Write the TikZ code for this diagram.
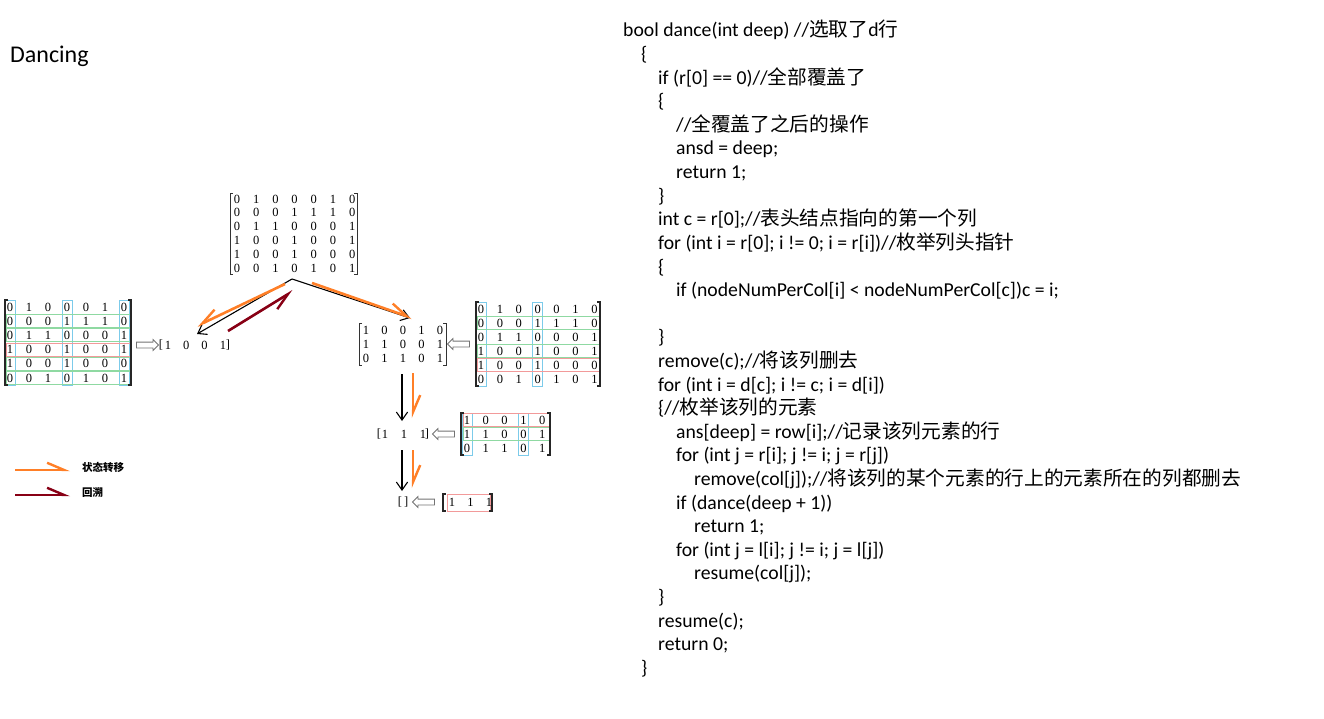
\documentclass[tikz,border=0pt]{standalone}
\usepackage{fontspec}
\setmainfont{Carlito}
\newfontfamily\cjk{Noto Sans CJK SC}
\newfontfamily\mtxfont{Liberation Serif}
\usetikzlibrary{arrows.meta,shapes.arrows}
\definecolor{orng}{HTML}{FF7F27}
\definecolor{dred}{HTML}{880015}
\definecolor{bbox}{HTML}{7CCBEA}
\definecolor{gbox}{HTML}{8FD9A2}
\definecolor{rbox}{HTML}{F29A9A}
\begin{document}
\begin{tikzpicture}[x=1pt,y=-1pt,
  num/.style={font=\mtxfont\fontsize{12.5}{12.5}\selectfont, inner sep=0pt, anchor=center},
  brk/.style={line width=0.9pt, black!80},
  brkthick/.style={line width=1.8pt, black!85},
  codeline/.style={anchor=base west, inner sep=0pt, font=\fontsize{19.7}{19.7}\selectfont},
  bluebox/.style={draw=bbox, line width=0.9pt},
  greenbox/.style={draw=gbox, line width=0.9pt},
  redbox/.style={draw=rbox, line width=0.9pt},
  hollowR/.style={single arrow, draw=black!55, fill=white, minimum height=22pt, inner sep=2.5pt, single arrow head extend=2.5pt, line width=0.8pt},
  hollowL/.style={hollowR, shape border rotate=180},
  blk/.style={draw=black, line width=1.1pt, -{Straight Barb[length=8pt, angle'=70]}},
  barbA/.style={-{Straight Barb[left, length=17pt, angle'=46, line width=2.4pt]}},
  barbB/.style={-{Straight Barb[right, length=17pt, angle'=46, line width=2.4pt]}},
  orUp/.style={draw=orng, line width=2.6pt, barbA},
  orDn/.style={draw=orng, line width=2.6pt, barbB},
  drDn/.style={draw=dred, line width=2.6pt, barbB},
  drUp/.style={draw=dred, line width=2.6pt, barbA},
  legtext/.style={anchor=west, inner sep=0pt, font=\cjk\bfseries\fontsize{10.5}{10.5}\selectfont}
]
\path[use as bounding box] (0,0) rectangle (1324,719);

\node[anchor=base west, inner sep=0pt, font=\fontsize{24}{24}\selectfont] (title) at (10,63) {Dancing};

% ---------- top matrix M0
\draw[brk] (233,193) -- (230,193) -- (230,274) -- (233,274);
\draw[brk] (354,193) -- (357,193) -- (357,274) -- (354,274);
\foreach \row [count=\i] in {{0,1,0,0,0,1,0},{0,0,0,1,1,1,0},{0,1,1,0,0,0,1},{1,0,0,1,0,0,1},{1,0,0,1,0,0,0},{0,0,1,0,1,0,1}}
  \foreach \v [count=\j] in \row
    \node[num] (ma-\i-\j) at ({237+(\j-1)*19.2},{199+(\i-1)*13.8}) {\v};

% ---------- left matrix M1 with boxes
\foreach \c in {1,4,7}
  \draw[bluebox] ({10+(\c-1)*19-5},300) rectangle ({10+(\c-1)*19+5},385);
\foreach \r in {2,3,5,6}
  \draw[greenbox] (6,{307+(\r-1)*14.2-6.5}) rectangle (130,{307+(\r-1)*14.2+6.5});
\draw[redbox] (6,{307+3*14.2-6.5}) rectangle (130,{307+3*14.2+6.5});
\draw[brkthick] (8,300) -- (5,300) -- (5,385) -- (8,385);
\draw[brkthick] (128,300) -- (131,300) -- (131,385) -- (128,385);
\foreach \row [count=\i] in {{0,1,0,0,0,1,0},{0,0,0,1,1,1,0},{0,1,1,0,0,0,1},{1,0,0,1,0,0,1},{1,0,0,1,0,0,0},{0,0,1,0,1,0,1}}
  \foreach \v [count=\j] in \row
    \node[num] (mb-\i-\j) at ({10+(\j-1)*19},{307+(\i-1)*14.2}) {\v};

\node[hollowR] (h1) at (146,345) {};
\node[num] (v1l) at (161,345) {[};
\foreach \v [count=\j] in {1,0,0,1}
  \node[num] (v1-\j) at ({168+(\j-1)*18.3},345) {\v};
\node[num] (v1r) at (228,345) {]};

% ---------- middle matrix M2
\draw[brk] (362,323) -- (359,323) -- (359,365) -- (362,365);
\draw[brk] (443,323) -- (446,323) -- (446,365) -- (443,365);
\foreach \row [count=\i] in {{1,0,0,1,0},{1,1,0,0,1},{0,1,1,0,1}}
  \foreach \v [count=\j] in \row
    \node[num] (mc-\i-\j) at ({366+(\j-1)*18.5},{330+(\i-1)*14}) {\v};

\node[hollowL] (h2) at (460,344) {};

% ---------- right matrix M3 with boxes
\foreach \c in {1,4}
  \draw[bluebox] ({481+(\c-1)*18.9-5},302) rectangle ({481+(\c-1)*18.9+5},386);
\foreach \r in {2,4}
  \draw[greenbox] (477,{309+(\r-1)*14-6.5}) rectangle (599,{309+(\r-1)*14+6.5});
\draw[redbox] (477,{309+4*14-6.5}) rectangle (599,{309+4*14+6.5});
\draw[brkthick] (479,302) -- (476,302) -- (476,386) -- (479,386);
\draw[brkthick] (597,302) -- (600,302) -- (600,386) -- (597,386);
\foreach \row [count=\i] in {{0,1,0,0,0,1,0},{0,0,0,1,1,1,0},{0,1,1,0,0,0,1},{1,0,0,1,0,0,1},{1,0,0,1,0,0,0},{0,0,1,0,1,0,1}}
  \foreach \v [count=\j] in \row
    \node[num] (md-\i-\j) at ({481+(\j-1)*18.9},{309+(\i-1)*14}) {\v};

% ---------- vector [1 1 1] and M4
\node[num] (v2l) at (379,434) {[};
\foreach \v [count=\j] in {1,1,1}
  \node[num] (v2-\j) at ({385+(\j-1)*19},434) {\v};
\node[num] (v2r) at (427,434) {]};
\node[hollowL] (h3) at (445,434) {};
\foreach \c in {1,4}
  \draw[bluebox] ({467+(\c-1)*18.8-5},413) rectangle ({467+(\c-1)*18.8+5},455);
\draw[redbox] (463,{420-6.5}) rectangle (549,{420+6.5});
\draw[greenbox] (463,{434-6.5}) rectangle (549,{434+6.5});
\draw[brkthick] (464,413) -- (461,413) -- (461,455) -- (464,455);
\draw[brkthick] (547,413) -- (550,413) -- (550,455) -- (547,455);
\foreach \row [count=\i] in {{1,0,0,1,0},{1,1,0,0,1},{0,1,1,0,1}}
  \foreach \v [count=\j] in \row
    \node[num] (me-\i-\j) at ({467+(\j-1)*18.8},{420+(\i-1)*14}) {\v};

% ---------- [ ] and [1 1 1]
\node[num] (empty) at (403,502) {[\,]};
\node[hollowL] (h4) at (425,502) {};
\draw[redbox] (447,494) rectangle (490,511);
\draw[brkthick] (446,494) -- (443,494) -- (443,511) -- (446,511);
\draw[brkthick] (489,494) -- (492,494) -- (492,511) -- (489,511);
\foreach \v [count=\j] in {1,1,1}
  \node[num] (mf-\j) at ({452+(\j-1)*18.5},502) {\v};

% ---------- connectors
\coordinate (top) at (292,279);
\coordinate (endL) at (197,334);
\coordinate (endR) at (410,318);
\coordinate (oLs) at (285,284);
\coordinate (oLe) at (197,326);
\coordinate (oRs) at (312,283);
\coordinate (oRe) at (412,318);
\coordinate (dRs) at (228,331);
\coordinate (dRe) at (293,291);
\draw[blk] (top) -- (endL);
\draw[blk] (top) -- (endR);
\draw[orDn] (oLs) -- (oLe);
\draw[orUp] (oRs) -- (oRe);
\draw[drDn] (dRs) -- (dRe);

\coordinate (d1s) at (402,374);
\coordinate (d1e) at (402,421);
\coordinate (o1s) at (413,373);
\coordinate (o1e) at (413,418);
\coordinate (d2s) at (402,450);
\coordinate (d2e) at (402,491);
\coordinate (o2s) at (413,450);
\coordinate (o2e) at (413,488);
\draw[blk] (d1s) -- (d1e);
\draw[orUp] (o1s) -- (o1e);
\draw[blk] (d2s) -- (d2e);
\draw[orUp] (o2s) -- (o2e);

% ---------- legend
\coordinate (la) at (15,470);
\coordinate (lb) at (70,470);
\coordinate (lc) at (15,495);
\coordinate (ld) at (70,495);
\draw[orUp] (la) -- (lb);
\draw[drUp] (lc) -- (ld);
\node[legtext] (lt1) at (82,467) {状态转移};
\node[legtext] (lt2) at (82,493) {回溯};

% ---------- code
\node[codeline] (c1) at (623,37) {bool dance(int deep) //{\cjk 选取了}d{\cjk 行}};
\node[codeline] (c2) at (641,60.6) {\{};
\node[codeline] (c3) at (658,84.2) {if (r[0] == 0)//{\cjk 全部覆盖了}};
\node[codeline] (c4) at (658,107.8) {\{};
\node[codeline] (c5) at (676,131.4) {//{\cjk 全覆盖了之后的操作}};
\node[codeline] (c6) at (676,155) {ansd = deep;};
\node[codeline] (c7) at (676,178.6) {return 1;};
\node[codeline] (c8) at (658,202.2) {\}};
\node[codeline] (c9) at (658,225.8) {int c = r[0];//{\cjk 表头结点指向的第一个列}};
\node[codeline] (c10) at (658,249.4) {for (int i = r[0]; i != 0; i = r[i])//{\cjk 枚举列头指针}};
\node[codeline] (c11) at (658,273) {\{};
\node[codeline] (c12) at (676,296.6) {if (nodeNumPerCol[i] < nodeNumPerCol[c])c = i;};
\node[codeline] (c14) at (658,343.8) {\}};
\node[codeline] (c15) at (658,367.4) {remove(c);//{\cjk 将该列删去}};
\node[codeline] (c16) at (658,391) {for (int i = d[c]; i != c; i = d[i])};
\node[codeline] (c17) at (658,414.6) {\{//{\cjk 枚举该列的元素}};
\node[codeline] (c18) at (676,438.2) {ans[deep] = row[i];//{\cjk 记录该列元素的行}};
\node[codeline] (c19) at (676,461.8) {for (int j = r[i]; j != i; j = r[j])};
\node[codeline] (c20) at (694,485.4) {remove(col[j]);//{\cjk 将该列的某个元素的行上的元素所在的列都删去}};
\node[codeline] (c21) at (676,509) {if (dance(deep + 1))};
\node[codeline] (c22) at (694,532.6) {return 1;};
\node[codeline] (c23) at (676,556.2) {for (int j = l[i]; j != i; j = l[j])};
\node[codeline] (c24) at (694,579.8) {resume(col[j]);};
\node[codeline] (c25) at (658,603.4) {\}};
\node[codeline] (c26) at (658,627) {resume(c);};
\node[codeline] (c27) at (658,650.6) {return 0;};
\node[codeline] (c28) at (641,674.2) {\}};
\end{tikzpicture}
\end{document}
